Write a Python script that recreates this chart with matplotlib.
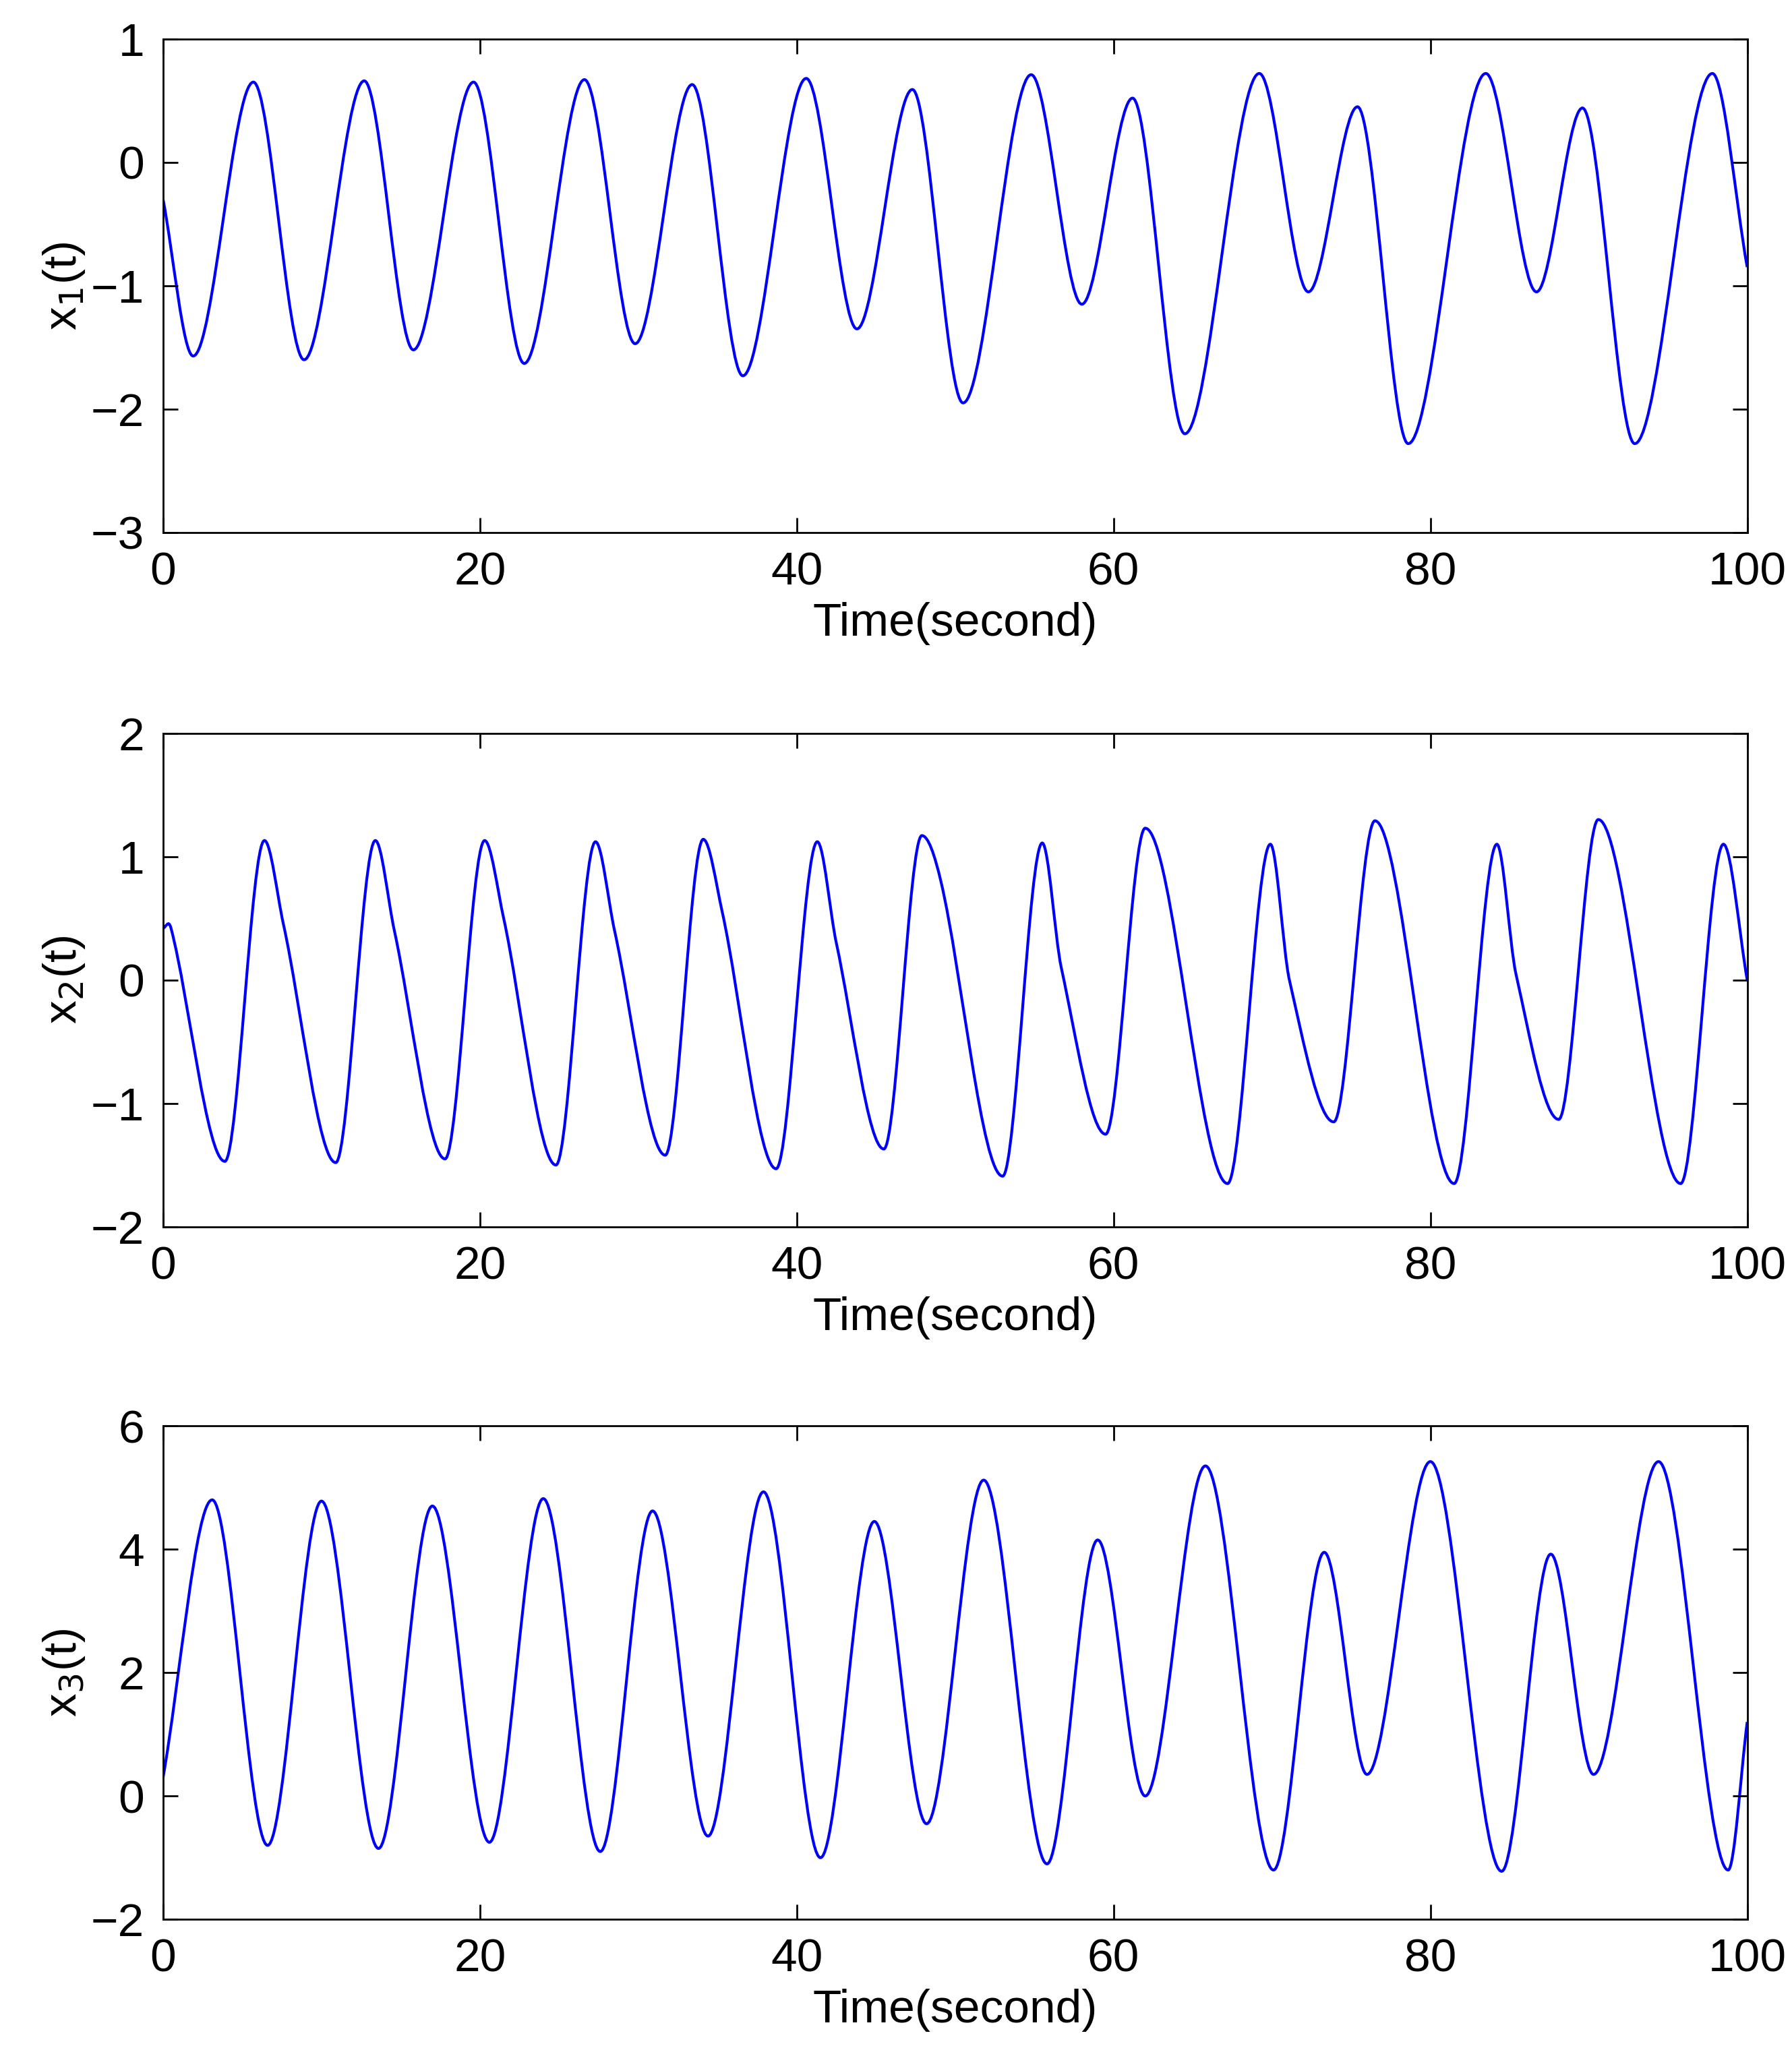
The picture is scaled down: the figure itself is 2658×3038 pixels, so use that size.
import numpy as np
import matplotlib
matplotlib.use("Agg")
import matplotlib.pyplot as plt
from matplotlib.path import Path
from matplotlib.patches import PathPatch

plt.rcParams['font.family'] = ['Liberation Sans', 'DejaVu Sans']

# key points (time, value): extrema and shoulders
x1_t = [0, 1.9, 5.7, 8.9, 12.7, 15.8, 19.6, 22.8, 26.6, 29.8, 33.4, 36.6, 40.6, 43.8, 47.3,
        50.5, 54.8, 58.0, 61.2, 64.5, 69.2, 72.3, 75.4, 78.6, 83.5, 86.7, 89.6, 92.9, 97.8, 100]
x1_v = [-0.3, -1.57, 0.65, -1.6, 0.66, -1.52, 0.65, -1.63, 0.67, -1.47, 0.63, -1.73, 0.68, -1.35, 0.59,
        -1.95, 0.71, -1.15, 0.52, -2.2, 0.72, -1.05, 0.45, -2.28, 0.72, -1.05, 0.44, -2.28, 0.72, -0.85]

x2_t = [0, 0.5, 3.9, 6.4, 7.6, 10.9, 13.4, 14.6, 17.8, 20.3, 21.5, 24.8, 27.3, 28.5, 31.7, 34.1, 35.3,
        38.7, 41.3, 42.5, 45.5, 47.9, 49.1, 53.0, 55.5, 56.7, 59.5, 62.0, 67.2, 69.9, 71.1, 73.9,
        76.5, 81.5, 84.2, 85.4, 88.1, 90.6, 95.8, 98.5, 100]
x2_v = [0.42, 0.42, -1.47, 1.13, 0.45, -1.48, 1.13, 0.4, -1.45, 1.13, 0.5, -1.5, 1.12, 0.4, -1.42, 1.14, 0.55,
        -1.53, 1.12, 0.3, -1.37, 1.17, 0.8, -1.59, 1.11, 0.1, -1.25, 1.23, -1.65, 1.1, 0.0, -1.15,
        1.29, -1.65, 1.1, 0.05, -1.13, 1.3, -1.65, 1.1, 0.0]

x3_t = [0, 3.1, 6.6, 10.0, 13.6, 17.0, 20.6, 24.0, 27.6, 30.9, 34.4, 37.9, 41.5, 44.9, 48.2, 51.8,
        55.8, 59.0, 62.0, 65.8, 70.1, 73.3, 76.0, 80.0, 84.5, 87.6, 90.3, 94.4, 98.8, 100]
x3_v = [0.3, 4.8, -0.8, 4.78, -0.85, 4.7, -0.75, 4.82, -0.9, 4.62, -0.65, 4.93, -1.0, 4.45, -0.45, 5.12,
        -1.1, 4.15, 0.0, 5.35, -1.2, 3.95, 0.35, 5.42, -1.22, 3.92, 0.35, 5.42, -1.2, 1.2]

series = [(x1_t, x1_v, r'x$_1$(t)', (-3, 1), [-3, -2, -1, 0, 1]),
          (x2_t, x2_v, r'x$_2$(t)', (-2, 2), [-2, -1, 0, 1, 2]),
          (x3_t, x3_v, r'x$_3$(t)', (-2, 6), [-2, 0, 2, 4, 6])]
xticks = [0, 20, 40, 60, 80, 100]


def smooth_path(t, v):
    t = np.asarray(t, float)
    v = np.asarray(v, float)
    n = len(t)
    m = np.zeros(n)
    for i in range(n):
        if 0 < i < n - 1:
            if (v[i] - v[i - 1]) * (v[i + 1] - v[i]) < 0:
                m[i] = 0.0
            else:
                m[i] = (v[i + 1] - v[i - 1]) / (t[i + 1] - t[i - 1])
        elif i == 0:
            m[i] = (v[1] - v[0]) / (t[1] - t[0])
        else:
            m[i] = (v[-1] - v[-2]) / (t[-1] - t[-2])
    verts = [(t[0], v[0])]
    codes = [Path.MOVETO]
    for i in range(n - 1):
        h = (t[i + 1] - t[i]) / 3
        verts += [(t[i] + h, v[i] + m[i] * h), (t[i + 1] - h, v[i + 1] - m[i + 1] * h), (t[i + 1], v[i + 1])]
        codes += [Path.CURVE4] * 3
    return Path(verts, codes)


fig = plt.figure(figsize=(13.29, 15.19), dpi=200)
boxes = [0.740, 0.401, 0.0628]
for (t, v, lab, ylim, yt), y0 in zip(series, boxes):
    ax = fig.add_axes([0.091, y0, 0.884, 0.241])
    ax.add_patch(PathPatch(smooth_path(t, v), facecolor='none', edgecolor='blue', lw=1.5))
    ax.set_xlim(0, 100)
    ax.set_ylim(*ylim)
    ax.set_xticks(xticks)
    ax.set_yticks(yt)
    ax.set_yticklabels([str(y).replace('-', '\u2212') for y in yt])
    ax.tick_params(direction='in', top=True, right=True, labelsize=25, length=8, width=1, pad=10)
    ax.set_xlabel('Time(second)', fontsize=25, labelpad=4)
    ax.set_ylabel(lab, fontsize=25, labelpad=2)
    for s in ax.spines.values():
        s.set_linewidth(1)

fig.savefig('out.png', dpi=200)
